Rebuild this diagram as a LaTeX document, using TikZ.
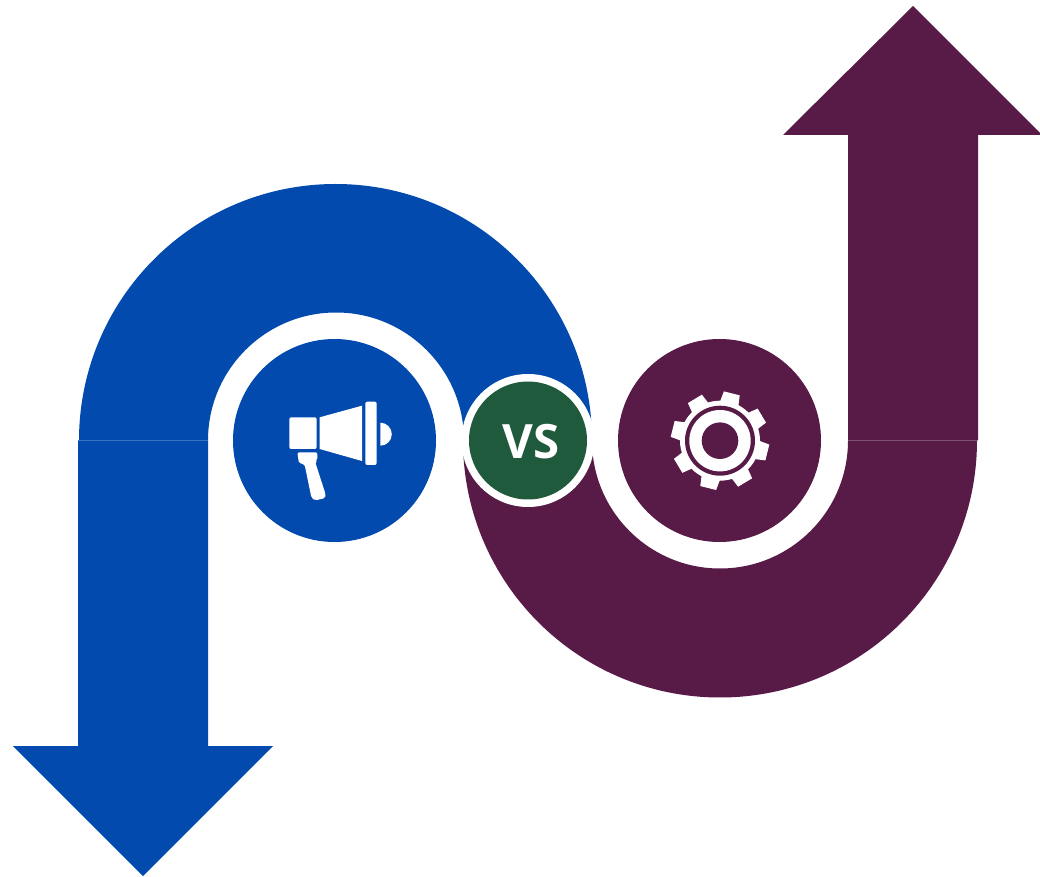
\documentclass[tikz,border=0pt]{standalone}
\usepackage{fontspec}
\setmainfont{Open Sans}
\usetikzlibrary{calc}
\definecolor{mblue}{HTML}{024AAE}
\definecolor{mpurple}{HTML}{581A46}
\definecolor{mgreen}{HTML}{1F5A3C}
\tikzset{
  bluefill/.style={fill=mblue},
  purplefill/.style={fill=mpurple},
  iconfill/.style={fill=white},
}
\begin{document}
\begin{tikzpicture}[x=0.75pt,y=-0.75pt]
\useasboundingbox (0,0) rectangle (1040,877);
% blue arrow
\fill[bluefill] (79,440.5) arc[start angle=180,end angle=0,radius=256.5*0.75pt] -- (464,440.5) arc[start angle=0,end angle=180,radius=128*0.75pt] -- cycle;
\fill[bluefill] (78,440.5) -- (208,440.5) -- (208,746) -- (273,746) -- (143,876) -- (13,746) -- (78,746) -- cycle;
\fill[bluefill] (334.5,440.5) circle[radius=101.5*0.75pt];
% purple arrow
\fill[purplefill] (463,440.5) arc[start angle=180,end angle=360,radius=257*0.75pt] -- (848,440.5) arc[start angle=360,end angle=180,radius=128*0.75pt] -- cycle;
\fill[purplefill] (848,440.5) -- (848,135) -- (783,135) -- (913,6) -- (1042,135) -- (978,135) -- (978,440.5) -- cycle;
\fill[purplefill] (719.5,440.5) circle[radius=101.5*0.75pt];
% VS badge
\fill[white] (528,440.5) circle[radius=66.5*0.75pt];
\fill[mgreen] (528,440.5) circle[radius=59*0.75pt];
\node[text=white,font=\fontsize{35.5}{35.5}\selectfont\bfseries,inner sep=0pt] (vs) at (531,441.5) {VS};
% megaphone
\fill[iconfill,rounded corners=1.5pt] (316.7,417.3) -- (289.3,417.3) -- (289.3,449) -- (316.7,449) -- cycle;
\fill[iconfill] (319.7,417.3) -- (362,405.7) -- (362,461) -- (319.7,449) -- cycle;
\fill[iconfill,rounded corners=1.5pt] (365.3,401.7) rectangle (376.7,465);
\fill[iconfill] (380.3,422.7) arc[start angle=90,end angle=-90,radius=11.5*0.75pt] -- cycle;
\fill[iconfill,rounded corners=1.5pt] (297.3,452.3) -- (317.3,452.3) -- (317.3,460.5) -- (315,461.5) -- (325.5,494) -- (325.5,498) -- (315,500.5) -- (311.5,498) -- (304.5,464) -- (299,463.5) -- cycle;
% gear
\fill[iconfill] (720,440.7) circle[radius=40*0.75pt];
\foreach \a in {76,31,-14,-59,-104,-149,166,121} {
  \fill[iconfill] ([shift={(720,440.7)}]\a-15:28pt)
    -- ([shift={(720,440.7)}]\a-9.5:37.1pt)
    -- ([shift={(720,440.7)}]\a+9.5:37.1pt)
    -- ([shift={(720,440.7)}]\a+15:28pt) -- cycle;
}
\fill[mpurple] (720,440.7) circle[radius=35*0.75pt];
\fill[white] (720,440.7) circle[radius=30.7*0.75pt];
\fill[mpurple] (720,440.7) circle[radius=18.3*0.75pt];
\end{tikzpicture}
\end{document}
